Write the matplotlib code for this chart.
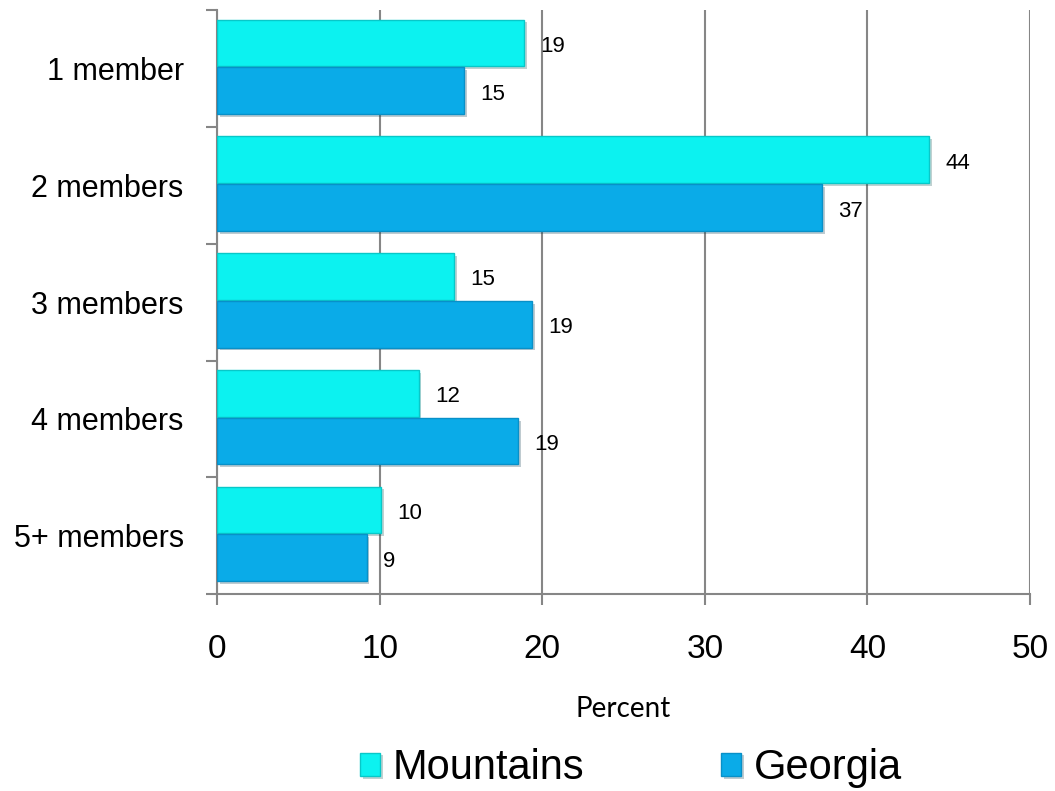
import numpy as np
import matplotlib.pyplot as plt
import matplotlib.patheffects as pe

categories = ['1 member', '2 members', '3 members', '4 members', '5+ members']
mountains = [18.9, 43.8, 14.6, 12.4, 10.1]
georgia = [15.2, 37.2, 19.4, 18.5, 9.2]
mountains_labels = ['19', '44', '15', '12', '10']
georgia_labels = ['15', '37', '19', '19', '9']
xticks = [0, 10, 20, 30, 40, 50]

c_mtn = '#0CF2F0'
c_ga = '#0AABE8'

plt.rcParams['font.family'] = ['Liberation Sans', 'DejaVu Sans']

fig = plt.figure(figsize=(10.55, 7.91), dpi=100)
ax = fig.add_axes([0.2057, 0.249, 0.7706, 0.738])

y = np.arange(len(categories))
h = 0.4
off_m, off_g = -0.22, 0.19
shadow = [pe.SimplePatchShadow(offset=(2, -2), alpha=0.25), pe.Normal()]
b1 = ax.barh(y + off_m, mountains, height=h, color=c_mtn, edgecolor='#08C8C8',
             linewidth=1, label='Mountains', zorder=3)
b2 = ax.barh(y + off_g, georgia, height=h, color=c_ga, edgecolor='#0890C8',
             linewidth=1, label='Georgia', zorder=3)
for b in list(b1) + list(b2):
    b.set_path_effects(shadow)

# value labels
for yy, v, t in zip(y, mountains, mountains_labels):
    ax.text(v + 1.0, yy + off_m + 0.03, t, va='center', ha='left', fontsize=16)
for yy, v, t in zip(y, georgia, georgia_labels):
    ax.text(v + 1.0, yy + off_g + 0.03, t, va='center', ha='left', fontsize=16)

ax.set_xlim(0, 50)
ax.set_ylim(4.5, -0.5)
ax.set_xticks(xticks)
ax.set_xticklabels([str(t) for t in xticks], fontsize=24)
ax.tick_params(axis='x', length=8, width=1.5, color='#868686', pad=21)
ax.set_yticks(y)
ax.set_yticklabels(categories, fontsize=22)
ax.tick_params(axis='y', which='major', length=0, pad=24)
ax.set_yticks(np.arange(-0.5, 5, 1), minor=True)
ax.tick_params(axis='y', which='minor', length=8, width=1.5, color='#868686')

ax.grid(axis='x', color='#868686', linewidth=1.5, zorder=0)
ax.set_axisbelow(True)
for s in ['top', 'right']:
    ax.spines[s].set_visible(False)
for s in ['left', 'bottom']:
    ax.spines[s].set_color('#868686')
    ax.spines[s].set_linewidth(1.5)

ax.set_xlabel('Percent', fontsize=20, family=['Lato', 'DejaVu Sans'], labelpad=22)

fig.legend(handles=[b1, b2], labels=['Mountains', 'Georgia'], loc='center',
           bbox_to_anchor=(0.598, 0.029), ncol=2, frameon=False, fontsize=30,
           handlelength=0.48, handleheight=0.48, handletextpad=0.3, columnspacing=3.3)

fig.savefig('out.png', dpi=100)
